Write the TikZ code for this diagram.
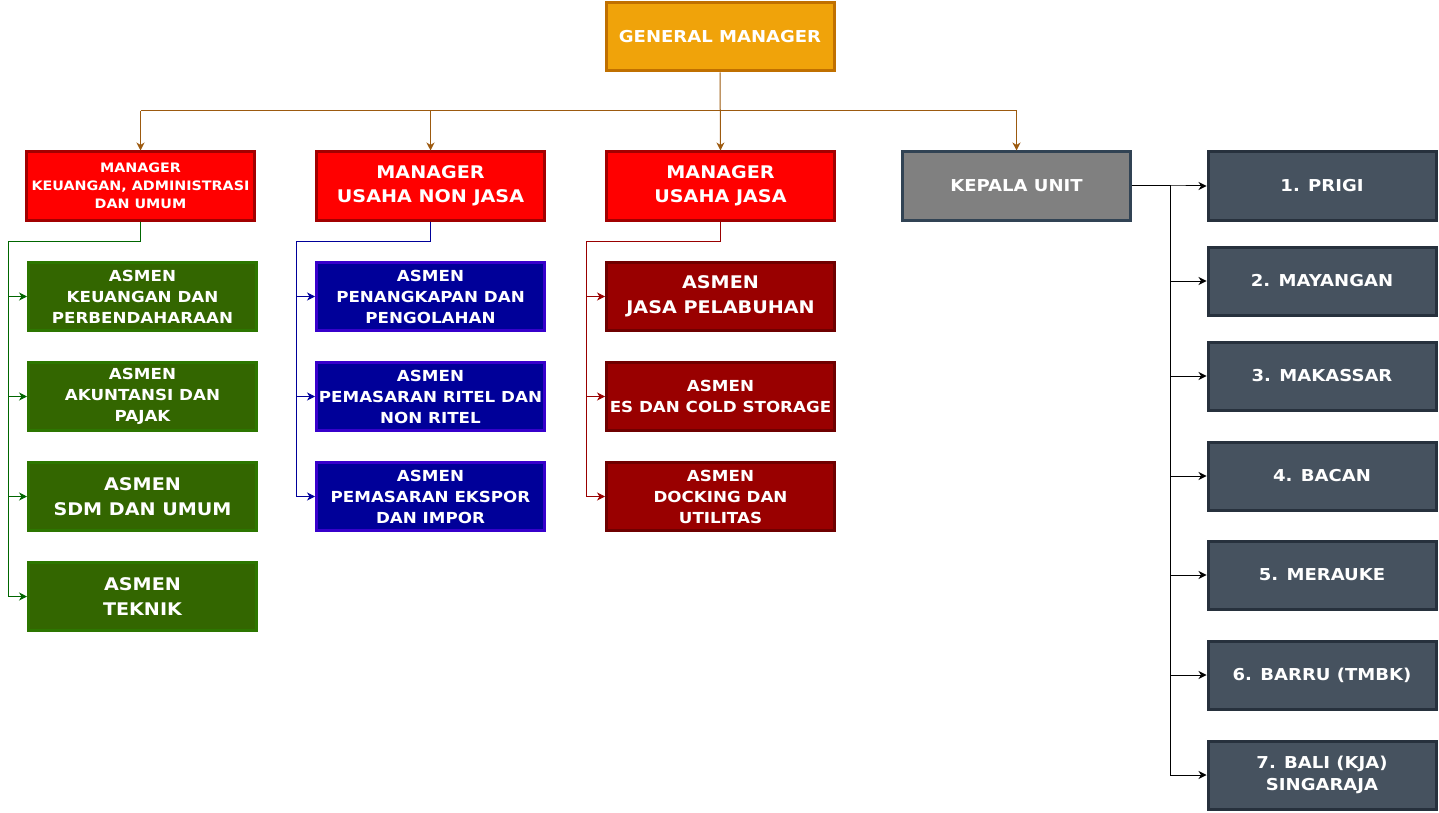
\documentclass[tikz,border=0pt]{standalone}
\usepackage{fontspec}
\setmainfont{DejaVu Sans}[FakeStretch=1.1]
\usetikzlibrary{arrows.meta}
\definecolor{gmfill}{HTML}{F0A30A}
\definecolor{gmdraw}{HTML}{C07000}
\definecolor{mfill}{HTML}{FF0000}
\definecolor{mdraw}{HTML}{A20000}
\definecolor{kufill}{HTML}{808080}
\definecolor{kudraw}{HTML}{314354}
\definecolor{gfill}{HTML}{336600}
\definecolor{gdraw}{HTML}{2D7600}
\definecolor{bfill}{HTML}{000099}
\definecolor{bdraw}{HTML}{3700CC}
\definecolor{rfill}{HTML}{990000}
\definecolor{rdraw}{HTML}{6F0000}
\definecolor{ufill}{HTML}{46525F}
\definecolor{udraw}{HTML}{27313D}
\definecolor{brownline}{HTML}{9C5A0F}
\definecolor{greenline}{HTML}{006600}
\definecolor{blueline}{HTML}{000099}
\definecolor{redline}{HTML}{990000}
\newcommand{\fs}[2]{\fontsize{#1}{#2}\selectfont\bfseries}
\begin{document}
\begin{tikzpicture}[x=1pt,y=-1pt,
  box/.style={draw,line width=3pt,minimum width=228pt,minimum height=68pt,
    align=center,text=white,inner sep=0pt},
  gmbox/.style={box,fill=gmfill,draw=gmdraw,font=\fs{16.4}{22}},
  mbox/.style={box,fill=mfill,draw=mdraw,font=\fs{17.4}{24}},
  kubox/.style={box,fill=kufill,draw=kudraw,font=\fs{16.4}{22}},
  gbox/.style={box,fill=gfill,draw=gdraw},
  bbox/.style={box,fill=bfill,draw=bdraw},
  rbox/.style={box,fill=rfill,draw=rdraw},
  ubox/.style={box,fill=ufill,draw=udraw,font=\fs{16.4}{22}},
  three/.style={font=\fs{15.2}{21}},
  two/.style={font=\fs{17.4}{24.5}},
  link/.style={line width=1pt,-{Stealth[length=8pt,width=8pt,inset=2.5pt]}},
  plain/.style={line width=1pt}
]
\useasboundingbox (0,0) rectangle (1439,813);

% top
\node[gmbox] (gm) at (720,37) {GENERAL MANAGER};
\node[mbox,font=\fs{13}{18}] (m1) at (140.5,186) {MANAGER\\KEUANGAN, ADMINISTRASI\\DAN UMUM};
\node[mbox] (m2) at (430.5,186) {MANAGER\\USAHA NON JASA};
\node[mbox] (m3) at (720.5,186) {MANAGER\\USAHA JASA};
\node[kubox] (ku) at (1016.5,186) {KEPALA UNIT};

% green column
\node[gbox,three] (g1) at (142.5,296.5) {ASMEN\\KEUANGAN DAN\\PERBENDAHARAAN};
\node[gbox,three] (g2) at (142.5,396.5) {ASMEN\\AKUNTANSI DAN\\PAJAK};
\node[gbox,two] (g3) at (142.5,496.5) {ASMEN\\SDM DAN UMUM};
\node[gbox,two] (g4) at (142.5,596.5) {ASMEN\\TEKNIK};

% blue column
\node[bbox,three] (b1) at (430.5,296.5) {ASMEN\\PENANGKAPAN DAN\\PENGOLAHAN};
\node[bbox,three] (b2) at (430.5,396.5) {ASMEN\\PEMASARAN RITEL DAN\\NON RITEL};
\node[bbox,three] (b3) at (430.5,496.5) {ASMEN\\PEMASARAN EKSPOR\\DAN IMPOR};

% dark red column
\node[rbox,two] (r1) at (720.5,296.5) {ASMEN\\JASA PELABUHAN};
\node[rbox,font=\fs{15.2}{21}] (r2) at (720.5,396.5) {ASMEN\\ES DAN COLD STORAGE};
\node[rbox,three] (r3) at (720.5,496.5) {ASMEN\\DOCKING DAN\\UTILITAS};

% units
\node[ubox] (u1) at (1322,186) {1. PRIGI};
\node[ubox] (u2) at (1322,281) {2. MAYANGAN};
\node[ubox] (u3) at (1322,376) {3. MAKASSAR};
\node[ubox] (u4) at (1322,476) {4. BACAN};
\node[ubox] (u5) at (1322,575) {5. MERAUKE};
\node[ubox] (u6) at (1322,675) {6. BARRU (TMBK)};
\node[ubox] (u7) at (1322,775) {7. BALI (KJA)\\SINGARAJA};

% bus from general manager
\coordinate (busL) at (140.5,111);
\coordinate (busR) at (1016.5,111);
\draw[plain,brownline] (busL) -- (busR);
\draw[link,brownline] (gm.south) -- (m3.north);
\draw[link,brownline] (busL) -- (m1.north);
\draw[link,brownline] (m2.north |- busL) -- (m2.north);
\draw[link,brownline] (busR) -- (ku.north);

% green connectors
\coordinate (gx) at (8,241);
\foreach \n in {g1,g2,g3,g4}
  \draw[link,greenline] (m1.south) |- (gx) |- (\n.west);

% blue connectors
\coordinate (bx) at (296,241);
\foreach \n in {b1,b2,b3}
  \draw[link,blueline] (m2.south) |- (bx) |- (\n.west);

% dark red connectors
\coordinate (rx) at (586,241);
\foreach \n in {r1,r2,r3}
  \draw[link,redline] (m3.south) |- (rx) |- (\n.west);

% unit connectors
\coordinate (kx) at (1170,186);
\foreach \n in {u1,u2,u3,u4,u5,u6,u7}
  \draw[link,black] (ku.east) -- (kx) |- (\n.west);
\end{tikzpicture}
\end{document}
